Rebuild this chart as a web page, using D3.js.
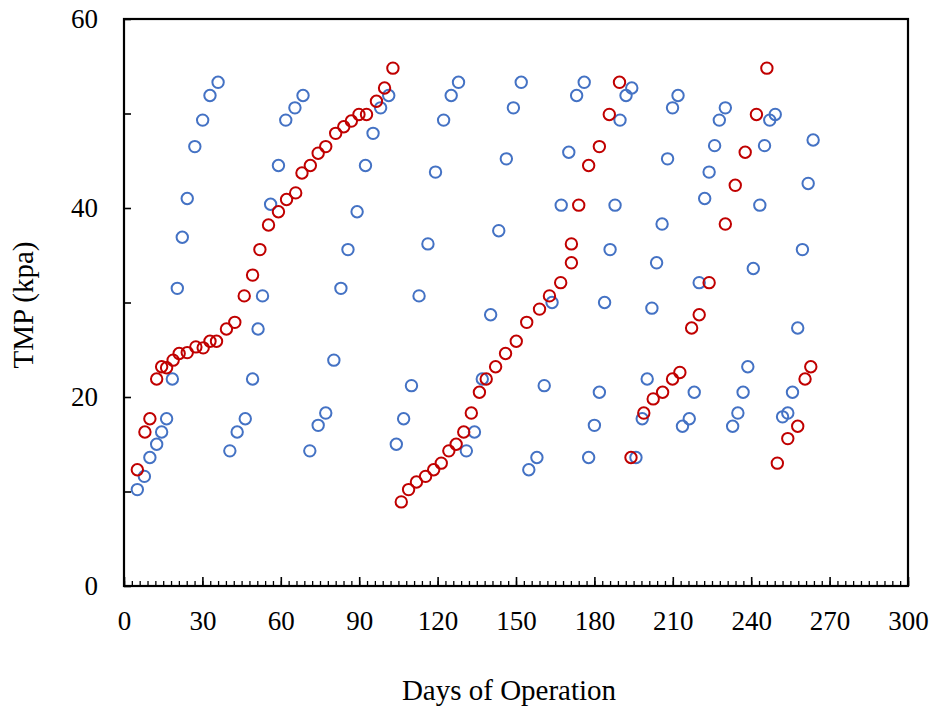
<!DOCTYPE html>
<html>
<head>
<meta charset="utf-8">
<script src="https://cdn.jsdelivr.net/npm/d3@7"></script>
<style>
  html, body { margin: 0; padding: 0; background: #fff; }
  text { font-family: "Liberation Serif", "Times New Roman", serif; fill: #000; }
</style>
</head>
<body>
<svg id="chart" width="934" height="710"></svg>
<script>
// blue series (days, kpa)
const blueDays = [5.1, 7.8, 9.9, 12.5, 14.4, 16.3, 18.5, 20.4, 22.3, 24.2, 27.1, 30.1, 32.9, 36.0,
  40.5, 43.3, 46.4, 49.2, 51.3, 53.0, 56.1, 59.1, 61.9, 65.4, 68.5,
  71.1, 74.3, 77.2, 80.3, 83.0, 85.7, 89.2, 92.4, 95.3, 98.2, 101.3,
  104.2, 107.0, 110.0, 112.9, 116.3, 119.2, 122.3, 125.2, 128.0,
  131.0, 134.1, 137.1, 140.3, 143.4, 146.3, 149.0, 152.0,
  154.9, 158.0, 160.8, 163.8, 167.3, 170.2, 173.2, 176.1,
  177.8, 180.0, 181.9, 183.9, 186.0, 187.9, 189.8, 192.1, 194.3,
  195.9, 198.3, 200.2, 202.0, 203.8, 205.9, 208.0, 209.9, 212.0,
  213.7, 216.3, 218.2, 220.1, 222.2, 223.9, 226.0, 227.8, 230.1,
  232.9, 234.9, 236.9, 238.7, 240.8, 243.3, 245.1, 247.1, 249.2,
  252.0, 254.0, 255.8, 257.8, 259.6, 261.8, 263.7];
const blueTmp = [10.2, 11.6, 13.6, 15.0, 16.3, 17.7, 21.9, 31.5, 36.9, 41.0, 46.5, 49.3, 51.9, 53.3,
  14.3, 16.3, 17.7, 21.9, 27.2, 30.7, 40.4, 44.5, 49.3, 50.6, 51.9,
  14.3, 17.0, 18.3, 23.9, 31.5, 35.6, 39.6, 44.5, 47.9, 50.6, 51.9,
  15.0, 17.7, 21.2, 30.7, 36.2, 43.8, 49.3, 51.9, 53.3,
  14.3, 16.3, 21.9, 28.7, 37.6, 45.2, 50.6, 53.3,
  12.3, 13.6, 21.2, 30.0, 40.3, 45.9, 51.9, 53.3,
  13.6, 17.0, 20.5, 30.0, 35.6, 40.3, 49.3, 51.9, 52.7,
  13.6, 17.7, 21.9, 29.4, 34.2, 38.3, 45.2, 50.6, 51.9,
  16.9, 17.7, 20.5, 32.1, 41.0, 43.8, 46.6, 49.3, 50.6,
  16.9, 18.3, 20.5, 23.2, 33.6, 40.3, 46.6, 49.3, 49.9,
  17.9, 18.3, 20.5, 27.3, 35.6, 42.6, 47.2];

// red series (days, kpa)
const redDays = [5.1, 8.0, 9.9, 12.5, 14.4, 16.3, 18.8, 21.1, 24.2, 27.5, 30.3, 32.9, 35.4, 39.2, 42.4,
  46.0, 49.2, 52.0, 55.3, 59.1, 62.2, 65.7, 68.1, 71.3, 74.3, 77.2, 81.0, 84.1, 87.0, 89.9,
  92.8, 96.6, 99.7, 102.9,
  106.1, 108.9, 111.9, 115.4, 118.5, 121.4, 124.3, 127.1, 130.0, 132.9, 136.0, 138.6,
  142.2, 146.0, 150.1, 154.1, 159.0, 162.8, 167.1, 171.2, 171.2, 174.0, 177.8, 181.9, 185.7, 189.6,
  194.0, 198.9, 202.5, 206.1, 209.9, 212.7, 217.2, 220.1, 223.9, 230.1, 233.9, 237.7, 242.0, 246.0,
  250.0, 254.0, 257.8, 260.6, 262.8];
const redTmp = [12.3, 16.3, 17.7, 21.9, 23.2, 23.1, 23.9, 24.6, 24.7, 25.3, 25.2, 25.9, 25.9, 27.2, 27.9,
  30.7, 32.9, 35.6, 38.2, 39.6, 40.9, 41.6, 43.7, 44.5, 45.8, 46.5, 47.9, 48.6, 49.2, 49.9,
  49.9, 51.3, 52.7, 54.8,
  8.9, 10.2, 11.0, 11.6, 12.3, 13.0, 14.3, 15.0, 16.3, 18.3, 20.5, 21.9,
  23.2, 24.6, 25.9, 27.9, 29.3, 30.7, 32.1, 34.2, 36.2, 40.3, 44.5, 46.5, 49.9, 53.3,
  13.6, 18.3, 19.8, 20.5, 21.9, 22.6, 27.3, 28.7, 32.1, 38.3, 42.4, 45.9, 49.9, 54.8,
  13.0, 15.6, 16.9, 21.9, 23.2];

const xTickLabels = [0, 30, 60, 90, 120, 150, 180, 210, 240, 270, 300];
const yTickLabels = [0, 20, 40, 60];

const plotLeft = 124, plotRight = 908, plotTop = 19, plotBottom = 586;

const svg = d3.select('#chart');
const x = d3.scaleLinear().domain([0, 300]).range([plotLeft, plotRight]);
const y = d3.scaleLinear().domain([0, 60]).range([plotBottom, plotTop]);

// minor x ticks every 3 days, major every 30
const xMinor = d3.axisBottom(x).tickValues(d3.range(0, 301, 3)).tickSize(-5).tickFormat('');
svg.append('g').attr('transform', `translate(0,${plotBottom})`).call(xMinor)
  .call(g => g.select('.domain').remove())
  .selectAll('line').attr('stroke', '#000').attr('stroke-width', 1.3);

const xMajor = d3.axisBottom(x).tickValues(xTickLabels).tickSize(-9).tickPadding(25);
svg.append('g').attr('transform', `translate(0,${plotBottom})`).call(xMajor)
  .call(g => g.select('.domain').remove())
  .call(g => g.selectAll('line').attr('stroke', '#000').attr('stroke-width', 1.6))
  .call(g => g.selectAll('text').attr('font-size', 27)
    .attr('font-family', '"Liberation Serif", "Times New Roman", serif').attr('fill', '#000'));

// y ticks every 10, labels every 20
const yAxis = d3.axisLeft(y).tickValues(d3.range(0, 61, 10)).tickSize(-7).tickPadding(26)
  .tickFormat(d => yTickLabels.includes(d) ? d : '');
svg.append('g').attr('transform', `translate(${plotLeft},0)`).call(yAxis)
  .call(g => g.select('.domain').remove())
  .call(g => g.selectAll('line').attr('stroke', '#000').attr('stroke-width', 1.6))
  .call(g => g.selectAll('text').attr('font-size', 27)
    .attr('font-family', '"Liberation Serif", "Times New Roman", serif').attr('fill', '#000'));

// frame
svg.append('rect')
  .attr('x', plotLeft).attr('y', plotTop)
  .attr('width', plotRight - plotLeft).attr('height', plotBottom - plotTop)
  .attr('fill', 'none').attr('stroke', '#000').attr('stroke-width', 2.2);

function drawSeries(days, vals, color) {
  svg.append('g').selectAll('circle')
    .data(days.map((d, i) => [d, vals[i]]))
    .join('circle')
    .attr('cx', d => x(d[0]))
    .attr('cy', d => y(d[1]))
    .attr('r', 5.7)
    .attr('fill', 'none')
    .attr('stroke', color)
    .attr('stroke-width', 2);
}
drawSeries(blueDays, blueTmp, '#4472C4');
drawSeries(redDays, redTmp, '#C00000');

// titles
svg.append('text')
  .attr('x', 509).attr('y', 700)
  .attr('text-anchor', 'middle').attr('font-size', 29)
  .text('Days of Operation');

svg.append('text')
  .attr('transform', 'translate(33,305) rotate(-90)')
  .attr('text-anchor', 'middle').attr('font-size', 29)
  .text('TMP (kpa)');
</script>
</body>
</html>
